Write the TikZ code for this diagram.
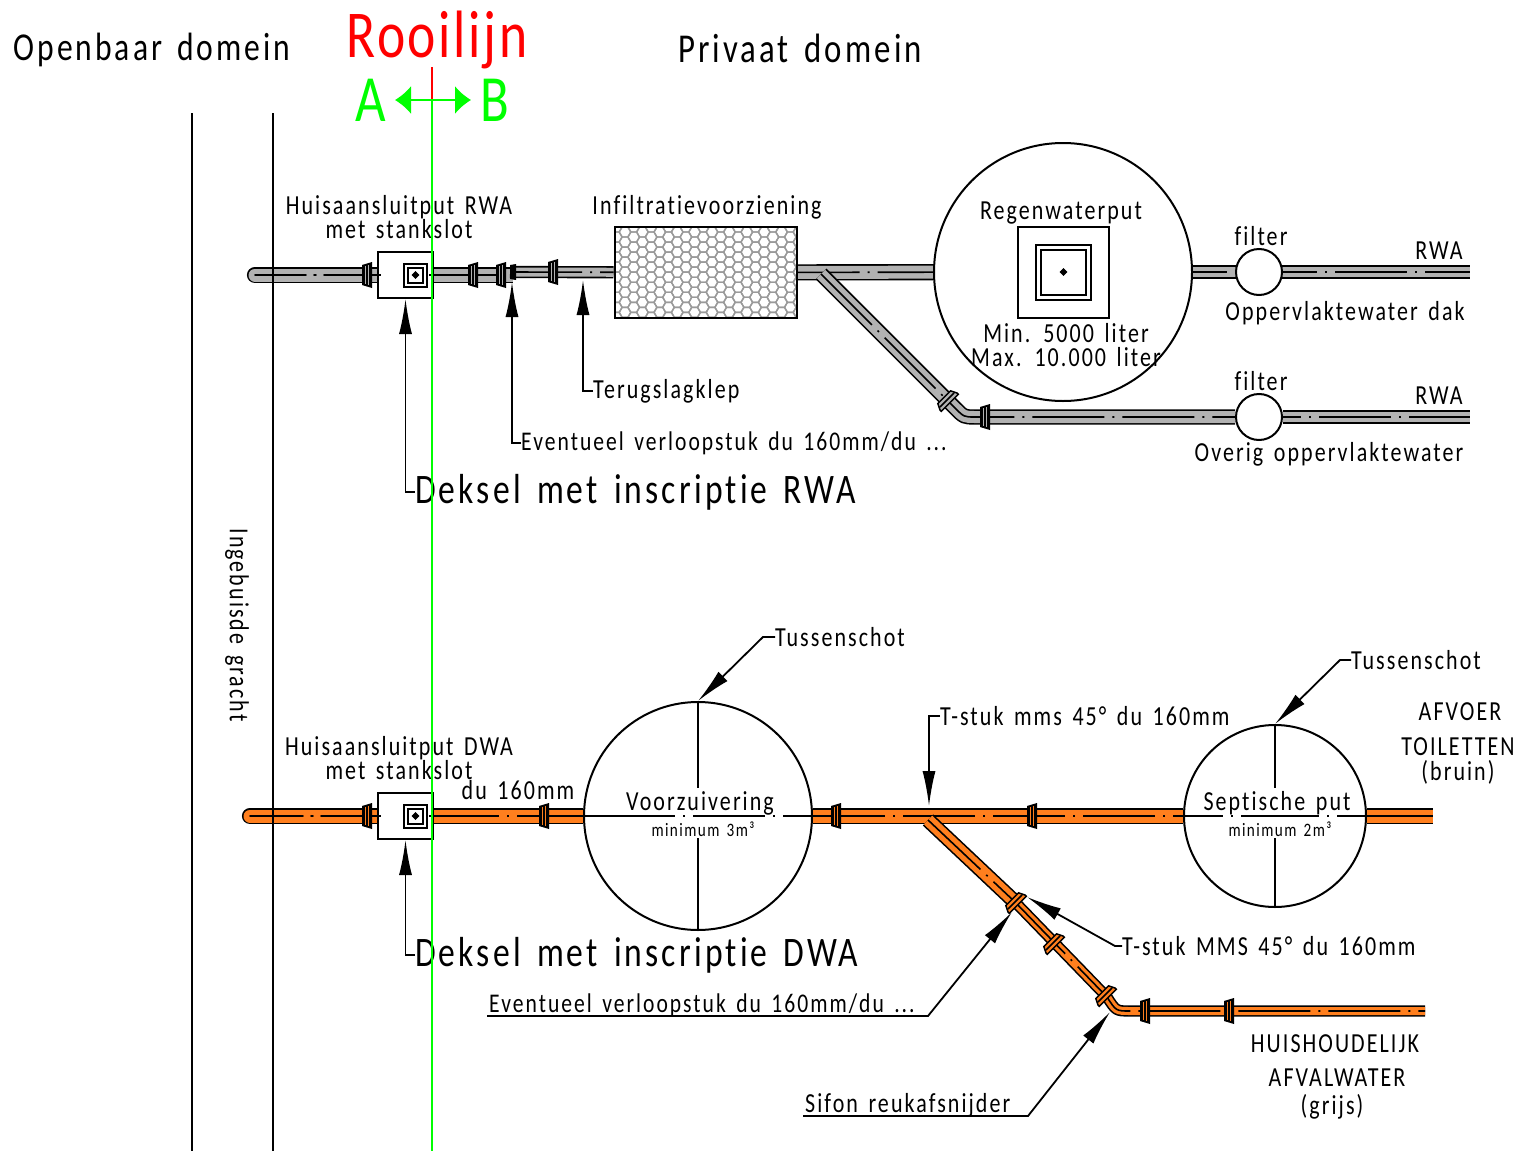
\documentclass[tikz,border=0pt]{standalone}
\usepackage{fontspec}
\setmainfont{Carlito}[FakeStretch=0.8,LetterSpace=7.5,WordSpace=1.5,Ligatures=NoCommon]
\usetikzlibrary{arrows.meta,backgrounds,shapes.geometric}
\definecolor{rwagrey}{HTML}{B2B2B2}
\definecolor{dwaorange}{HTML}{FF7F1E}
\definecolor{hexgrey}{HTML}{9A9A9A}
\definecolor{lijnred}{HTML}{FF0000}
\definecolor{lijngreen}{HTML}{00FF00}
\newcommand{\pipeline}[3]{%
\draw[line width=#1pt+3.2pt,black] #3;
\draw[line width=#1pt,#2] #3;
\draw[centreline] #3;}
\tikzset{
lbl/.style={inner sep=0pt,font=\fontsize{27.5}{24}\selectfont,align=center},
longlbl/.style={inner sep=0pt,font=\fontsize{27}{24}\selectfont},
titlelbl/.style={inner sep=0pt,font=\fontsize{39.5}{40}\selectfont},
biglbl/.style={inner sep=0pt,font=\fontsize{42}{42}\selectfont},
smalllbl/.style={inner sep=0pt,font=\fontsize{19}{19}\selectfont},
centreline/.style={line width=1.6pt,black,dash pattern=on 72pt off 8pt on 2pt off 8pt},
leader/.style={line width=1.8pt,-{Latex[length=35pt,width=13pt]}},
putnode/.style={draw,circle,fill=white,line width=2pt,inner sep=0pt},
boxnode/.style={draw,fill=white,line width=2pt,inner sep=0pt},
lidsq/.style={draw,line width=2pt,inner sep=0pt,minimum size=#1},
thinline/.style={line width=2pt},
socket/.pic={
\fill[black] (-5,-10) -- (5,-13) -- (5,13) -- (-5,10) -- cycle;
\draw[#1,line width=.6pt] (-2,-9) -- (-2,9) (1.5,-10) -- (1.5,10);},
smallsocket/.pic={
\fill[black] (-3,-7) -- (3,-8) -- (3,8) -- (-3,7) -- cycle;},
sleeve/.pic={
\draw[fill=#1,line width=1.5pt] (-4,-9) -- (2,-12) -- (4,-12) -- (4,12) -- (2,12) -- (-4,9) -- cycle;
\draw[line width=1.5pt] (0,-10) -- (0,10);},
}
\begin{document}
\begin{tikzpicture}[x=1pt,y=-1pt]
\useasboundingbox (0,0) rectangle (1521,1151);
% pipe ends
\coordinate (rwastart) at (255,275);
\coordinate (rwareduce) at (513,275);
\coordinate (rwathin) at (510,272);
\coordinate (rwabranch) at (821,274);
\coordinate (rwabendin) at (955,408);
\coordinate (rwabendout) at (975,417);
\coordinate (rwaenda) at (1470,272);
\coordinate (rwaendb) at (1470,417);
\coordinate (dwastart) at (250,816);
\coordinate (dwaenda) at (1433,816);
\coordinate (dwaendb) at (1425,1011);
\coordinate (dwabranch) at (928,820);
\coordinate (dwajoint) at (1015,902);
\coordinate (dwabendin) at (1107,997);
\coordinate (dwabendout) at (1130,1011);
% grachten en rooilijn
\coordinate (grachtatop) at (192,113);
\coordinate (grachtabot) at (192,1151);
\coordinate (grachtbtop) at (273,113);
\coordinate (grachtbbot) at (273,1151);
\draw[thinline] (grachtatop) -- (grachtabot);
\draw[thinline] (grachtbtop) -- (grachtbbot);
% infiltratie
\begin{scope}
\clip (615,227) rectangle (796,318);
\foreach \r in {0,...,19}{
\foreach \c in {0,...,10}{
\pgfmathsetmacro{\hx}{625+17.4*\c+8.7*mod(\r,2)-8.7}
\pgfmathsetmacro{\hy}{227+5.02*\r}
\draw[hexgrey,line width=1.4pt] (\hx-5.8,\hy) -- (\hx-2.9,\hy-5.02) -- (\hx+2.9,\hy-5.02) -- (\hx+5.8,\hy) -- (\hx+2.9,\hy+5.02) -- (\hx-2.9,\hy+5.02) -- cycle;
}}
\end{scope}
% nodes
\node[draw,line width=2pt,inner sep=0pt,minimum width=182pt,minimum height=91pt](infiltratie) at (705.5,272.5){};
\node[putnode,minimum size=258pt](regenput) at (1063,272){};
\node[putnode,minimum size=46pt](filtera) at (1259,272){};
\node[putnode,minimum size=46pt](filterb) at (1259,417){};
\node[boxnode,minimum width=55pt,minimum height=46pt](huisrwa) at (405.5,275){};
\node[boxnode,minimum width=55pt,minimum height=46pt](huisdwa) at (405.5,816){};
\node[putnode,minimum size=228pt](voorz) at (698,816){};
\node[putnode,minimum size=182pt](septisch) at (1275,816){};
\node[draw,line width=2pt,inner sep=0pt,minimum size=91pt](regendeksel) at (1063.5,272){};
% pipes
\begin{scope}[on background layer]
\pipeline{13}{rwagrey}{[line cap=round,dash phase=21pt] (rwastart) -- (huisrwa)}
\pipeline{13}{rwagrey}{(huisrwa) -- (rwareduce)}
\pipeline{9}{rwagrey}{(rwathin) -- (infiltratie)}
\pipeline{13}{rwagrey}{[dash phase=10pt] (infiltratie) -- (regenput)}
\pipeline{10}{rwagrey}{[dash phase=38pt] (regenput) -- (rwaenda)}
\pipeline{10}{rwagrey}{[dash phase=54pt] (filterb) -- (rwaendb)}
\pipeline{12}{rwagrey}{(rwabranch) -- (rwabendin) .. controls (964,417) .. (rwabendout) -- (filterb)}
\pipeline{13}{dwaorange}{[line cap=round,dash phase=19pt] (dwastart) -- (huisdwa)}
\pipeline{13}{dwaorange}{[dash phase=7pt] (huisdwa) -- (voorz)}
\pipeline{13}{dwaorange}{(voorz) -- (septisch)}
\pipeline{13}{dwaorange}{(septisch) -- (dwaenda)}
\pipeline{12}{dwaorange}{(dwabranch) -- (dwajoint)}
\pipeline{8}{dwaorange}{(dwajoint) -- (dwabendin) .. controls (1116,1011) .. (dwabendout) -- (dwaendb)}
\end{scope}
% mof
\foreach \xx in {367,473,501}{
\pic at (\xx,275) {socket=rwagrey};
}
\pic at (513,272) {smallsocket};
\pic at (553,272) {socket=rwagrey};
\pic at (985,417) {socket=rwagrey};
\foreach \xx in {367,544,836,1032}{
\pic at (\xx,816) {socket=dwaorange};
}
\foreach \xx in {1145,1229}{
\pic at (\xx,1011) {socket=dwaorange};
}
\pic[rotate=-45] at (947,400) {sleeve=rwagrey};
\pic[rotate=-45] at (dwajoint) {sleeve=dwaorange};
\pic[rotate=-45] at (1053,943) {sleeve=dwaorange};
\pic[rotate=-45] at (1105,995) {sleeve=dwaorange};
% stukjes as in het huis
\draw[thinline,line width=1.6pt] (huisrwa.west) -- ++(4,0);
\draw[thinline,line width=1.6pt] (huisrwa.east) -- ++(-5,0);
\draw[thinline,line width=1.6pt] (huisdwa.west) -- ++(4,0);
\draw[thinline,line width=1.6pt] (huisdwa.east) -- ++(-5,0);
% deksels
\foreach \dk/\dx/\dy in {rwa/415.5/275,dwa/415.5/816}{
\node[lidsq=23pt](lid\dk) at (\dx,\dy){};
\node[lidsq=15pt] at (\dx,\dy){};
\node[diamond,draw,fill=black,inner sep=1.8pt] at (\dx,\dy){};
}
\node[lidsq=55pt] at (1063.5,272){};
\node[lidsq=45pt] at (1063.5,272){};
\node[diamond,draw,fill=black,inner sep=1.8pt] at (1063.5,272){};
% kruis in putten
\coordinate (voorzup) at (698,788);
\coordinate (voorzdown) at (698,838);
\coordinate (septup) at (1275,788);
\coordinate (septdown) at (1275,838);
\draw[line width=1.6pt,dash pattern=on 92pt off 8pt on 2pt off 8pt on 72pt off 8pt on 2pt off 8pt] (voorz.west) -- (voorz.east);
\draw[line width=1.6pt,dash pattern=on 40pt off 8pt on 2pt off 8pt on 78pt off 8pt on 2pt off 8pt] (septisch.west) -- (septisch.east);
\draw[line width=1.6pt] (voorz.north) -- (voorzup);
\draw[line width=1.6pt] (voorzdown) -- (voorz.south);
\draw[line width=1.6pt] (septisch.north) -- (septup);
\draw[line width=1.6pt] (septdown) -- (septisch.south);
% teksten
\node[titlelbl] (openbaar) at (152,50){Openbaar domein};
\node[titlelbl,font=\fontsize{41}{41}\selectfont] (privaat) at (800,48){Privaat domein};
\node[inner sep=0pt,font=\fontsize{67}{67}\addfontfeatures{LetterSpace=4}\selectfont,text=lijnred] (rooilijn) at (437,40){Rooilijn};
\node[inner sep=0pt,font=\fontsize{66}{66}\selectfont,text=lijngreen] (zonea) at (371,100){A};
\node[inner sep=0pt,font=\fontsize{66}{66}\selectfont,text=lijngreen] (zoneb) at (495,100){B};
\node[lbl] (huisrwatxt) at (399,217){Huisaansluitput RWA\\met stankslot};
\node[lbl] (infiltxt) at (707,207){Infiltratievoorziening};
\node[lbl] (regentxt) at (1061,213){Regenwaterput};
\node[lbl] (volumetxt) at (1066,345){Min. 5000 liter\\Max. 10.000 liter};
\node[lbl] (filteratxt) at (1261,236){filter};
\node[lbl] (rwaatxt) at (1439,251){RWA};
\node[lbl] (dak) at (1345,313){Oppervlaktewater dak};
\node[lbl] (filterbtxt) at (1261,381){filter};
\node[lbl] (rwabtxt) at (1439,396){RWA};
\node[lbl] (overig) at (1329,454){Overig oppervlaktewater};
\node[lbl,anchor=west] (klep) at (593,391){Terugslagklep};
\node[longlbl,anchor=west] (verlooprwa) at (521,443){Eventueel verloopstuk du 160mm/du ...};
\node[biglbl,anchor=west] (dekselrwa) at (415,492){Deksel met inscriptie RWA};
\node[lbl,rotate=-90] (gracht) at (237,625){Ingebuisde gracht};
\node[lbl,anchor=west] (tussena) at (775,637){Tussenschot};
\node[lbl,anchor=west] (tussenb) at (1351,660){Tussenschot};
\node[lbl,anchor=west] (tstuka) at (940,716){T-stuk mms 45° du 160mm};
\node[lbl] (afvoer) at (1460,712){AFVOER};
\node[lbl] (toiletten) at (1458,747){TOILETTEN};
\node[lbl] (bruin) at (1458,772){(bruin)};
\node[lbl] (huisdwatxt) at (399,758){Huisaansluitput DWA\\met stankslot};
\node[lbl] (dutxt) at (518,790){du 160mm};
\node[lbl] (voorztxt) at (700,803){Voorzuivering};
\node[smalllbl] (voorzmin) at (703,829){minimum 3m³};
\node[lbl] (septtxt) at (1277,803){Septische put};
\node[smalllbl] (septmin) at (1280,829){minimum 2m³};
\node[lbl,anchor=west] (tstukb) at (1122,946){T-stuk MMS 45° du 160mm};
\node[biglbl,anchor=west] (dekseldwa) at (415,955){Deksel met inscriptie DWA};
\node[longlbl,anchor=west] (verloopdwa) at (489,1005){Eventueel verloopstuk du 160mm/du ...};
\node[lbl,anchor=west] (sifon) at (805,1105){Sifon reukafsnijder};
\node[lbl] (huish) at (1335,1044){HUISHOUDELIJK};
\node[lbl] (afval) at (1337,1078){AFVALWATER};
\node[lbl] (grijs) at (1332,1107){(grijs)};
% leiders
\coordinate (verlooptip) at (512,282);
\coordinate (kleptip) at (583,280);
\coordinate (tstuktip) at (929,806);
\coordinate (jointtip) at (1027,897);
\coordinate (jointtipb) at (1012,912);
\coordinate (sifontip) at (1110,1012);
\coordinate (ulverl) at (487,1016);
\coordinate (ulverr) at (928,1016);
\coordinate (ulsifl) at (803,1116);
\coordinate (ulsifr) at (1028,1116);
\draw[leader] (dekselrwa.west) -| (huisrwa.south);
\draw[leader] (dekseldwa.west) -| (huisdwa.south);
\draw[leader] (verlooprwa.west) -| (verlooptip);
\draw[leader] (klep.west) -| (kleptip);
\draw[leader] (tstuka.west) -| (tstuktip);
\draw[leader] (tussena.west) -- ++(-12,0) -- (voorz.north);
\draw[leader] (tussenb.west) -- ++(-11,0) -- (septisch.north);
\draw[leader] (tstukb.west) -- ++(-7,0) -- (jointtip);
\draw[leader] (ulverl) -- (ulverr) -- (jointtipb);
\draw[leader] (ulsifl) -- (ulsifr) -- (sifontip);
% rooilijn
\coordinate (lijntop) at (432,67);
\coordinate (lijnmid) at (432,100);
\coordinate (lijnbot) at (432,1151);
\coordinate (pijla) at (395,100);
\coordinate (pijlb) at (471,100);
\draw[lijnred,line width=1.6pt] (lijntop) -- (lijnmid);
\draw[lijngreen,line width=2.4pt] (lijnmid) -- (lijnbot);
\draw[lijngreen,line width=1.6pt,{Latex[length=16pt,width=28pt]}-{Latex[length=16pt,width=28pt]}] (pijla) -- (pijlb);
\end{tikzpicture}
\end{document}
